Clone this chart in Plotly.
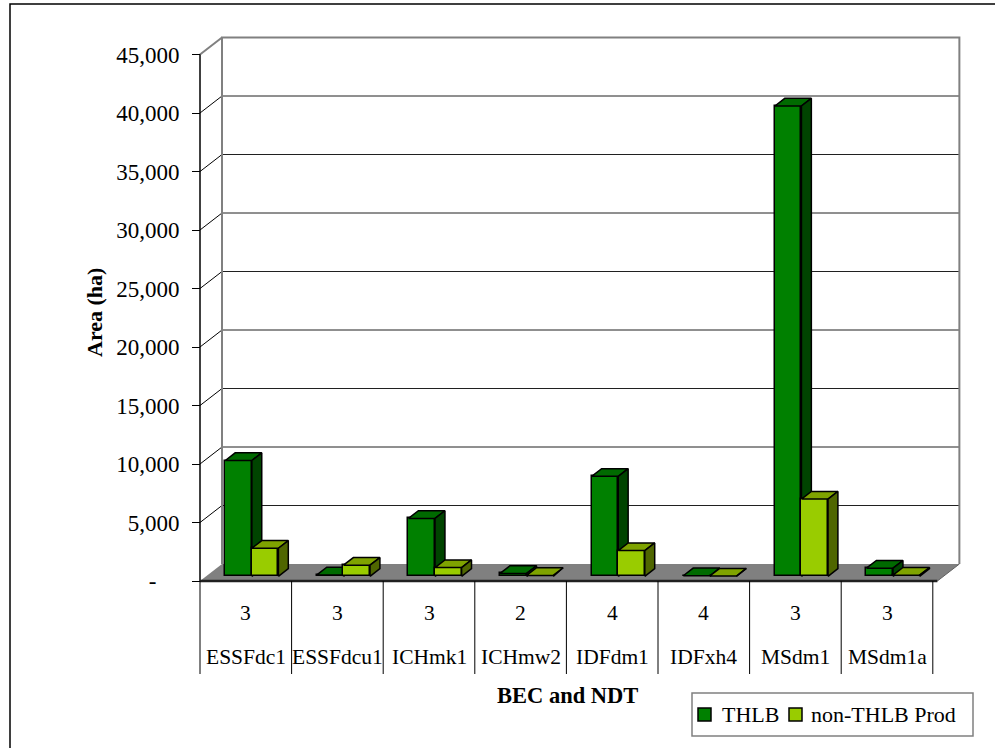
import plotly.graph_objects as go

# ---------------- data ----------------
categories = ["ESSFdc1", "ESSFdcu1", "ICHmk1", "ICHmw2", "IDFdm1", "IDFxh4", "MSdm1", "MSdm1a"]
ndt = ["3", "3", "3", "2", "4", "4", "3", "3"]
thlb = [9900, 120, 4950, 250, 8550, 50, 40200, 700]
non_thlb = [2400, 950, 750, 80, 2200, 25, 6600, 100]
y_ticks = [0, 5000, 10000, 15000, 20000, 25000, 30000, 35000, 40000, 45000]
y_tick_text = ["-\u00a0\u00a0\u00a0\u00a0", "5,000", "10,000", "15,000", "20,000", "25,000",
               "30,000", "35,000", "40,000", "45,000"]
series_names = ["THLB", "non-THLB Prod"]

# ---------------- geometry (pixel layout) ----------------
W, H = 995, 748
CAT_PX = 91.6          # px per category on front plane
Y_PX = 11.7 / 1000.0   # px per data unit
X0_PX, Y0_PX = 200, 581  # pixel of data origin (front plane)
L, R, T, B = 190, 965, 30, 590  # plot-area pixel box

xmin = (L - X0_PX) / CAT_PX
xmax = (R - X0_PX) / CAT_PX
ymin = -(B - Y0_PX) / Y_PX
ymax = (Y0_PX - T) / Y_PX

DX = 22 / CAT_PX   # depth offset in x data units
DY = 17 / Y_PX     # depth offset in y data units
F0, F1 = 0.275, 0.725  # bar front / back depth fractions
BW = 0.29
FLOOR_END = 8.05
YMAX_WALL = 45000


def px_x(p):
    return (p - L) / (R - L)


def px_y(p):
    return (B - p) / (B - T)


N = len(categories)

fig = go.Figure()

colors = {
    "THLB": ("#008000", "#006A00", "#004400"),
    "non-THLB Prod": ("#99CC00", "#7FA300", "#4F6600"),
}


def add_series(vals, offset, name, xa, ya):
    front, top, side = colors[name]
    xs = [i + offset + BW / 2 + F0 * DX for i in range(N)]
    fig.add_trace(go.Bar(
        x=xs, y=vals, base=[F0 * DY] * N, width=BW, name=name,
        marker=dict(color=front, line=dict(color="black", width=1.5)),
        xaxis=xa, yaxis=ya, showlegend=False, hoverinfo="skip"))
    tx, ty, sx, sy = [], [], [], []
    for i, v in enumerate(vals):
        x0 = i + offset
        x1 = x0 + BW
        tx += [x0 + F0 * DX, x1 + F0 * DX, x1 + F1 * DX, x0 + F1 * DX, x0 + F0 * DX, None]
        ty += [v + F0 * DY, v + F0 * DY, v + F1 * DY, v + F1 * DY, v + F0 * DY, None]
        sx += [x1 + F0 * DX, x1 + F1 * DX, x1 + F1 * DX, x1 + F0 * DX, x1 + F0 * DX, None]
        sy += [F0 * DY, F1 * DY, v + F1 * DY, v + F0 * DY, F0 * DY, None]
    fig.add_trace(go.Scatter(x=tx, y=ty, fill="toself", fillcolor=top, mode="lines",
                             line=dict(color="black", width=1.5), xaxis=xa, yaxis=ya,
                             showlegend=False, hoverinfo="skip"))
    fig.add_trace(go.Scatter(x=sx, y=sy, fill="toself", fillcolor=side, mode="lines",
                             line=dict(color="black", width=1.5), xaxis=xa, yaxis=ya,
                             showlegend=False, hoverinfo="skip"))


add_series(thlb, 0.21, series_names[0], "x", "y")
add_series(non_thlb, 0.21 + BW, series_names[1], "x2", "y2")

shapes = []
# floor
shapes.append(dict(type="path", xref="x", yref="y", layer="below",
                   path=f"M 0,0 L {FLOOR_END},0 L {FLOOR_END + DX},{DY} L {DX},{DY} Z",
                   fillcolor="#808080", line=dict(width=0)))
# back wall gridlines
for v in y_ticks[1:-1]:
    shapes.append(dict(type="line", xref="x", yref="y", layer="below",
                       x0=DX, x1=FLOOR_END + DX, y0=v + DY, y1=v + DY,
                       line=dict(color="#202020", width=1)))
    shapes.append(dict(type="line", xref="x", yref="y", layer="below",
                       x0=0, x1=DX, y0=v, y1=v + DY,
                       line=dict(color="black", width=1)))
# back wall outline
shapes.append(dict(type="path", xref="x", yref="y", layer="below",
                   path=f"M {DX},{DY} L {DX},{YMAX_WALL + DY} L {FLOOR_END + DX},{YMAX_WALL + DY} L {FLOOR_END + DX},{DY}",
                   line=dict(color="#808080", width=2)))
shapes.append(dict(type="line", xref="x", yref="y", layer="below",
                   x0=0, x1=DX, y0=YMAX_WALL, y1=YMAX_WALL + DY,
                   line=dict(color="#808080", width=2)))
# floor right diagonal
shapes.append(dict(type="line", xref="x", yref="y", layer="below",
                   x0=FLOOR_END, x1=FLOOR_END + DX, y0=0, y1=DY,
                   line=dict(color="#606060", width=1)))
# front axis line
shapes.append(dict(type="line", xref="x", yref="y", layer="below",
                   x0=0, x1=0, y0=0, y1=YMAX_WALL, line=dict(color="black", width=1.5)))
# floor front edge
shapes.append(dict(type="line", xref="x", yref="y", layer="above",
                   x0=0, x1=FLOOR_END, y0=0, y1=0, line=dict(color="#202020", width=2.5)))
# table dividers
for i in range(N + 1):
    shapes.append(dict(type="line", xref="x", yref="paper",
                       x0=i, x1=i, y0=px_y(Y0_PX), y1=px_y(674),
                       line=dict(color="black", width=1)))
# outer border
shapes.append(dict(type="rect", xref="paper", yref="paper",
                   x0=px_x(10), x1=px_x(998), y0=px_y(4), y1=px_y(760),
                   line=dict(color="black", width=1.5)))

# legend (drawn manually to match original spacing)
shapes.append(dict(type="rect", xref="paper", yref="paper",
                   x0=px_x(692), x1=px_x(973), y0=px_y(693), y1=px_y(736),
                   fillcolor="white", line=dict(color="#808080", width=1.5)))
legend_sq_x = [698, 789]
legend_txt_x = [720, 809]
for k, name in enumerate(series_names):
    shapes.append(dict(type="rect", xref="paper", yref="paper",
                       x0=px_x(legend_sq_x[k]), x1=px_x(legend_sq_x[k] + 13),
                       y0=px_y(708), y1=px_y(721),
                       fillcolor=colors[name][0], line=dict(color="black", width=1.5)))

FONT = "Liberation Serif, Times New Roman, serif"
annotations = []
for k, name in enumerate(series_names):
    annotations.append(dict(x=px_x(legend_txt_x[k]), y=px_y(714.5), xref="paper", yref="paper",
                            text=name, xanchor="left", yanchor="middle", showarrow=False,
                            font=dict(family=FONT, size=22, color="black")))
for i in range(N):
    annotations.append(dict(x=i + 0.5, xref="x", y=px_y(613), yref="paper", text=ndt[i],
                            xanchor="center", yanchor="middle",
                            showarrow=False, font=dict(family=FONT, size=21.5, color="black")))
    annotations.append(dict(x=i + 0.5, xref="x", y=px_y(657), yref="paper", text=categories[i],
                            xanchor="center", yanchor="middle",
                            showarrow=False, font=dict(family=FONT, size=21.5, color="black")))
annotations.append(dict(x=px_x(94), y=px_y(313), xref="paper", yref="paper", text="<b>Area (ha)</b>",
                        xanchor="center", yanchor="middle",
                        textangle=-90, showarrow=False, font=dict(family=FONT, size=22, color="black")))
annotations.append(dict(x=px_x(567), y=px_y(695), xref="paper", yref="paper", text="<b>BEC and NDT</b>",
                        xanchor="center", yanchor="middle",
                        showarrow=False, font=dict(family=FONT, size=22.5, color="black")))

axis_common = dict(showgrid=False, zeroline=False, showticklabels=False, fixedrange=True)
fig.update_layout(
    width=W, height=H,
    margin=dict(l=L, r=W - R, t=T, b=H - B, autoexpand=False),
    paper_bgcolor="white", plot_bgcolor="rgba(0,0,0,0)",
    barmode="overlay", bargap=0, showlegend=False,
    xaxis=dict(range=[xmin, xmax], **axis_common),
    xaxis2=dict(range=[xmin, xmax], overlaying="x", **axis_common),
    yaxis=dict(range=[ymin, ymax], showgrid=False, zeroline=False, fixedrange=True,
               anchor="free", position=(0 - xmin) / (xmax - xmin),
               tickmode="array", tickvals=y_ticks, ticktext=y_tick_text,
               ticks="outside", ticklen=8, tickcolor="black", tickwidth=1,
               ticklabelstandoff=8,
               tickfont=dict(family=FONT, size=23, color="black"), automargin=False),
    yaxis2=dict(range=[ymin, ymax], overlaying="y", showgrid=False, zeroline=False,
                showticklabels=False, fixedrange=True),
    shapes=shapes, annotations=annotations,
    font=dict(family=FONT),
)

fig.write_html("out.html")
